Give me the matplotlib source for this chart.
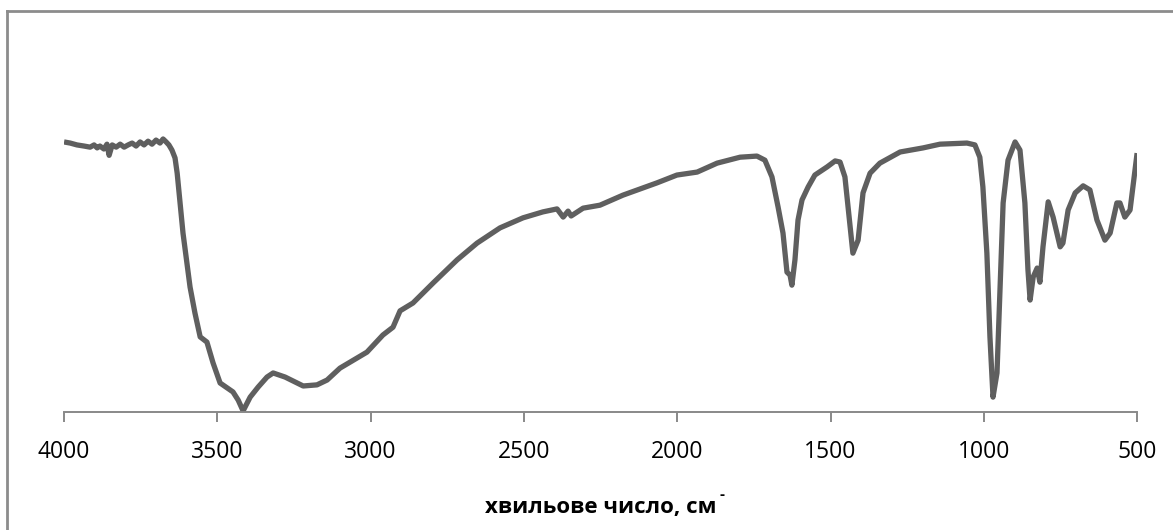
import matplotlib
matplotlib.use("Agg")
import matplotlib.pyplot as plt
from matplotlib.lines import Line2D

# IR spectrum: wavenumber (cm-1) and relative transmittance
wavenumber = [
    4000, 3980, 3958, 3935, 3915, 3902, 3892, 3883, 3870, 3860, 3853, 3843,
    3830, 3817, 3804, 3791, 3778, 3765, 3752, 3739, 3726, 3713, 3700, 3687,
    3677, 3667, 3658, 3648, 3638, 3631, 3612, 3589, 3573, 3556, 3534, 3514,
    3491, 3449, 3432, 3416, 3393, 3367, 3338, 3318, 3279, 3240, 3220, 3175,
    3142, 3100, 3067, 3012, 2960, 2927, 2904, 2862, 2829, 2796, 2718, 2653,
    2578, 2503, 2438, 2392, 2372, 2356, 2346, 2307, 2252, 2177, 2066, 2001,
    1935, 1870, 1795, 1740, 1714, 1691, 1671, 1655, 1642, 1632, 1626, 1616,
    1606, 1593, 1573, 1551, 1511, 1485, 1469, 1453, 1436, 1427, 1410, 1394,
    1371, 1339, 1273, 1198, 1143, 1055, 1029, 1013, 1003, 990, 980, 970,
    957, 947, 937, 921, 898, 882, 866, 856, 849, 839, 826, 817,
    807, 790, 774, 751, 742, 725, 702, 676, 654, 631, 605, 588,
    566, 556, 540, 523, 500,
]
transmittance = [
    72.6, 72.3, 71.8, 71.5, 71.2, 71.8, 71.0, 71.5, 70.7, 72.0, 69.0, 71.8,
    71.2, 72.0, 71.2, 71.8, 72.3, 71.5, 72.6, 71.8, 72.8, 72.0, 73.1, 72.3,
    73.4, 72.6, 71.8, 70.4, 68.3, 64.2, 48.1, 33.6, 26.6, 20.2, 18.8, 13.2,
    7.8, 5.4, 3.2, 0.3, 4.0, 6.7, 9.4, 10.5, 9.4, 7.8, 7.0, 7.3,
    8.6, 11.8, 13.4, 16.1, 20.7, 22.8, 27.2, 29.3, 32.0, 34.7, 40.9, 45.4,
    49.5, 52.2, 53.8, 54.6, 52.4, 54.0, 52.7, 54.8, 55.6, 58.3, 61.6, 63.7,
    64.5, 66.9, 68.5, 68.8, 67.7, 63.2, 55.1, 48.1, 37.6, 36.8, 34.1, 40.9,
    51.6, 57.0, 60.5, 63.7, 65.9, 67.5, 67.2, 63.2, 49.7, 42.7, 46.2, 58.9,
    64.2, 66.9, 69.9, 71.0, 72.0, 72.3, 71.8, 68.5, 60.5, 42.7, 20.2, 4.0,
    10.5, 33.6, 56.2, 67.7, 72.6, 70.4, 56.2, 38.2, 30.1, 36.3, 38.7, 34.9,
    44.4, 56.5, 52.4, 44.4, 45.4, 54.3, 58.9, 60.8, 59.7, 51.6, 46.2, 48.1,
    56.2, 56.2, 52.4, 54.3, 69.6,
]
x_ticks = [4000, 3500, 3000, 2500, 2000, 1500, 1000, 500]

FONT = "Open Sans"
LINE = "#5f5f5f"
AXIS = "#898989"

fig = plt.figure(figsize=(11.73, 5.30), dpi=100)
ax = fig.add_axes([0.0546, 0.2226, 0.9148, 0.7019])

ax.plot(wavenumber, transmittance, color=LINE, linewidth=3.8,
        solid_joinstyle="round", solid_capstyle="butt")

ax.set_xlim(4000, 500)
ax.set_ylim(0, 100)
ax.set_xticks(x_ticks)
ax.set_xticklabels([str(t) for t in x_ticks], fontsize=16.5, family=FONT)
ax.set_yticks([])
for side in ["left", "right", "top"]:
    ax.spines[side].set_visible(False)
ax.spines["bottom"].set_color(AXIS)
ax.spines["bottom"].set_linewidth(1.4)
ax.tick_params(axis="x", direction="out", length=7, width=1.4, color=AXIS, pad=13)

xl = ax.set_xlabel("хвильове число, см", fontsize=16, family=FONT,
                   fontweight="bold", labelpad=24)
ax.annotate("-", xy=(1.0, 0.78), xycoords=xl, xytext=(2, 0),
            textcoords="offset points", fontsize=11, family=FONT,
            fontweight="bold", ha="left", va="bottom")

# chart area border (only top and left edges fall inside the picture)
fig.add_artist(Line2D([0.006, 0.006], [-0.1, 0.979], transform=fig.transFigure,
                      color="#8c8c8c", linewidth=2))
fig.add_artist(Line2D([0.006, 1.1], [0.979, 0.979], transform=fig.transFigure,
                      color="#8c8c8c", linewidth=2))

fig.savefig("out.png", dpi=100)
